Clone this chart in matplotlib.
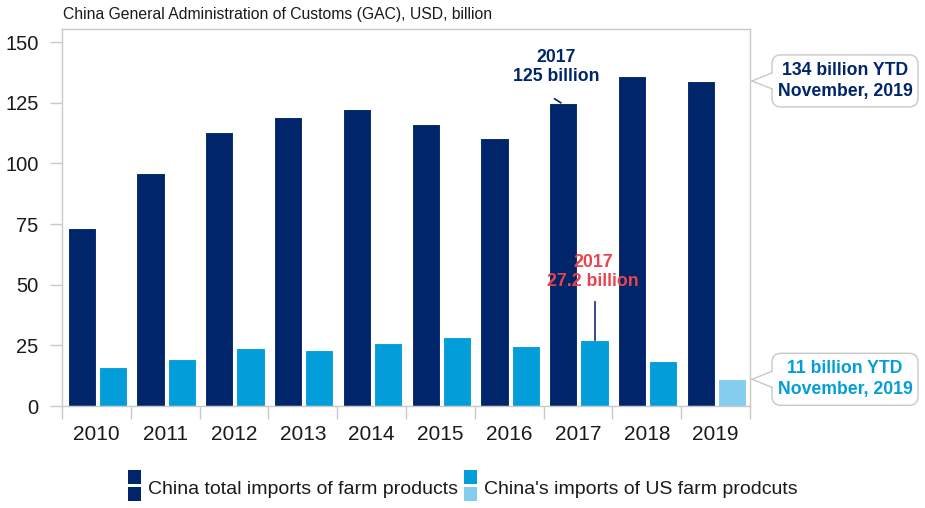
import matplotlib
matplotlib.use("Agg")
import matplotlib.pyplot as plt
from matplotlib.patches import FancyBboxPatch, Polygon, Rectangle
from matplotlib.lines import Line2D
from matplotlib.transforms import IdentityTransform
import numpy as np

plt.rcParams['font.family'] = ['Liberation Sans', 'DejaVu Sans']

years = ["2010", "2011", "2012", "2013", "2014", "2015", "2016", "2017", "2018", "2019"]
total_imports = [73.3, 96.0, 113.0, 119.0, 122.4, 116.3, 110.3, 125.0, 136.0, 134.0]
us_imports = [16.1, 19.5, 24.0, 23.0, 26.0, 28.3, 24.8, 27.2, 18.6, 11.0]

NAVY = "#00256b"
CYAN = "#039ed9"
LIGHT = "#85cdee"
RED = "#e8444d"
GRID = "#c9c9c9"
TXT = "#1a1a1a"

fig = plt.figure(figsize=(9.25, 5.08), dpi=100)
W, H = 925, 508
ax = fig.add_axes([62 / W, (H - 406) / H, (750 - 62) / W, (406 - 29) / H])

x = np.arange(len(years))
bw = 0.41
light_colors = [CYAN] * (len(years) - 1) + [LIGHT]
ax.bar(x - 0.215, total_imports, width=bw, color=NAVY, edgecolor="white", linewidth=0.8, zorder=2)
ax.bar(x + 0.24, us_imports, width=bw, color=light_colors, edgecolor="white", linewidth=0.8, zorder=2)

ax.set_xlim(-0.5, len(years) - 0.5)
ax.set_ylim(0, 155.4)
ax.set_yticks(np.arange(0, 151, 25))
ax.set_xticks(x)
ax.set_xticklabels(years)
ax.set_xticks(np.arange(-0.5, len(years), 1.0), minor=True)
ax.tick_params(axis="x", which="major", length=0, pad=14, labelsize=15, labelcolor=TXT)
ax.tick_params(axis="x", which="minor", length=9, width=1, color=GRID)
ax.tick_params(axis="y", length=9, width=1, color=GRID, pad=8, labelsize=14.5, labelcolor=TXT)
for s in ax.spines.values():
    s.set_color(GRID)
    s.set_linewidth(1)

fig.text(63 / W, 1 - 15 / H, "China General Administration of Customs (GAC), USD, billion",
         fontsize=11.3, color=TXT, ha="left", va="center")

# 2017 total-imports annotation
fig.text(556 / W, 1 - 67 / H, "2017\n125 billion", color=NAVY, fontsize=12.7, fontweight="bold",
         ha="center", va="center", linespacing=1.2)
ax.add_line(Line2D([6.66, 6.75], [126.6, 125.0], color=NAVY, lw=1.2, zorder=3))

# 2017 US-imports annotation
fig.text(593 / W, 1 - 272 / H, "2017\n27.2 billion", color=RED, fontsize=12.8, fontweight="bold",
         ha="center", va="center", linespacing=1.2)
ax.add_line(Line2D([7.24, 7.24], [27.2, 42.8], color="#2a3f7a", lw=1.3, zorder=3))

fig.canvas.draw()


def callout(value, text, color):
    tip_y = ax.transData.transform((0, value))[1]
    tip_x = 752
    bx0, bx1 = 772, 918
    bh = 52
    by0 = tip_y - bh / 2
    box = FancyBboxPatch((bx0, by0), bx1 - bx0, bh,
                         boxstyle="round,pad=0,rounding_size=9",
                         facecolor="white", edgecolor=GRID, linewidth=1,
                         transform=IdentityTransform(), zorder=5)
    fig.add_artist(box)
    half = 8
    tri = Polygon([[tip_x, tip_y], [bx0 + 1.5, tip_y + half], [bx0 + 1.5, tip_y - half]],
                  closed=True, facecolor="white", edgecolor="none",
                  transform=IdentityTransform(), zorder=6)
    fig.add_artist(tri)
    for dy in (half, -half):
        fig.add_artist(Line2D([tip_x, bx0], [tip_y, tip_y + dy], color=GRID, lw=1,
                              transform=IdentityTransform(), zorder=7))
    fig.text((bx0 + bx1) / 2 / W, tip_y / H, text, color=color, fontsize=12.7,
             fontweight="bold", ha="center", va="center", linespacing=1.3, zorder=8)


callout(total_imports[-1], "134 billion YTD\nNovember, 2019", NAVY)
callout(us_imports[-1], "11 billion YTD\nNovember, 2019", CYAN)


# Legend with split swatches
def swatch(x0, top_color, bottom_color, label):
    for (yt, c) in ((470, top_color), (487, bottom_color)):
        fig.add_artist(Rectangle((x0 / W, 1 - (yt + 14) / H), 13 / W, 14 / H,
                                 facecolor=c, edgecolor="none", transform=fig.transFigure))
    fig.text((x0 + 20) / W, 1 - 489 / H, label, fontsize=14, color=TXT,
             ha="left", va="center")


swatch(128, NAVY, NAVY, "China total imports of farm products")
swatch(464, CYAN, LIGHT, "China's imports of US farm prodcuts")

fig.savefig("out.png", dpi=100)
